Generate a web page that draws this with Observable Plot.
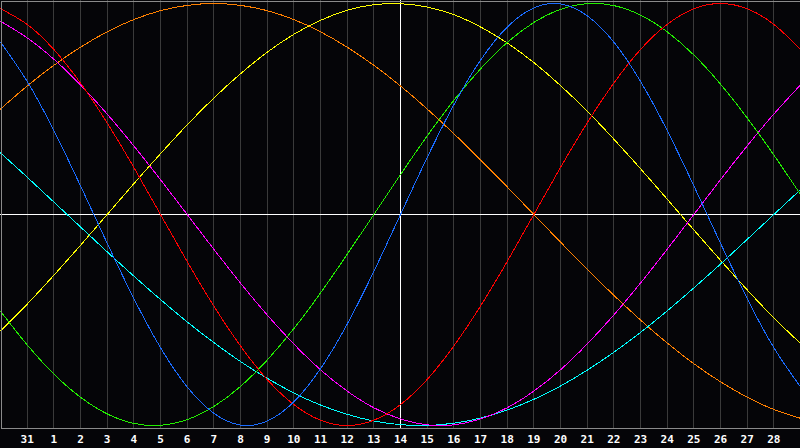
<!DOCTYPE html>
<html>
<head>
<meta charset="utf-8">
<script src="https://cdn.jsdelivr.net/npm/d3@7"></script>
<script src="https://cdn.jsdelivr.net/npm/@observablehq/plot@0.6"></script>
<style>
  html, body { margin: 0; padding: 0; background: #050508; }
  #chart svg { display: block; }
</style>
</head>
<body>
<div id="chart"></div>
<script>
// day positions (index 0 = "31", index 28 = "28"); -1 and 29 are the plot edges
const days = [-1, 0, 1, 2, 3, 4, 5, 6, 7, 8, 9, 10, 11, 12, 13, 14, 15, 16, 17, 18, 19, 20, 21, 22, 23, 24, 25, 26, 27, 28, 29];
const dayLabels = ["31", "1", "2", "3", "4", "5", "6", "7", "8", "9", "10", "11", "12", "13", "14", "15", "16", "17", "18", "19", "20", "21", "22", "23", "24", "25", "26", "27", "28"];
const today = 14;

// values (%) at each day position
const physical     = [81.7, 63.1, 39.8, 13.6, -13.6, -39.8, -63.1, -81.7, -94.2, -99.8, -97.9, -88.8, -73.1, -52.0, -27.0, 0, 27.0, 52.0, 73.1, 88.8, 97.9, 99.8, 94.2, 81.7, 63.1, 39.8, 13.6, -13.6, -39.8, -63.1, -81.7];
const emotional    = [97.5, 90.1, 78.2, 62.3, 43.4, 22.3, 0, -22.3, -43.4, -62.3, -78.2, -90.1, -97.5, -100, -97.5, -90.1, -78.2, -62.3, -43.4, -22.3, 0, 22.3, 43.4, 62.3, 78.2, 90.1, 97.5, 100, 97.5, 90.1, 78.2];
const intellectual = [-45.8, -61.8, -75.6, -86.6, -94.5, -99.0, -99.9, -97.2, -91.0, -81.5, -69.0, -54.1, -37.2, -18.9, 0, 18.9, 37.2, 54.1, 69.0, 81.5, 91.0, 97.2, 99.9, 99.0, 94.5, 86.6, 75.6, 61.8, 45.8, 28.2, 9.5];
const intuitive    = [91.6, 83.7, 73.6, 61.4, 47.6, 32.5, 16.5, 0, -16.5, -32.5, -47.6, -61.4, -73.6, -83.7, -91.6, -96.9, -99.7, -99.7, -96.9, -91.6, -83.7, -73.6, -61.4, -47.6, -32.5, -16.5, 0, 16.5, 32.5, 47.6, 61.4];
const aesthetic    = [-55.2, -42.5, -28.8, -14.6, 0, 14.6, 28.8, 42.5, 55.2, 66.7, 76.9, 85.4, 92.0, 96.8, 99.4, 99.9, 98.3, 94.7, 88.9, 81.3, 72.0, 61.1, 49.0, 35.7, 21.7, 7.3, -7.3, -21.7, -35.7, -49.0, -61.1];
const awareness    = [50.0, 60.9, 70.7, 79.3, 86.6, 92.4, 96.6, 99.1, 100, 99.1, 96.6, 92.4, 86.6, 79.3, 70.7, 60.9, 50.0, 38.3, 25.9, 13.1, 0, -13.1, -25.9, -38.3, -50.0, -60.9, -70.7, -79.3, -86.6, -92.4, -96.6];
const spiritual    = [29.2, 17.7, 5.9, -5.9, -17.7, -29.2, -40.3, -50.9, -60.7, -69.7, -77.6, -84.6, -90.3, -94.7, -97.9, -99.6, -100.0, -98.9, -96.5, -92.7, -87.6, -81.3, -73.8, -65.3, -55.9, -45.7, -34.8, -23.5, -11.8, 0, 11.8];

const seriesList = [
  {values: awareness,    color: "#ff8000"},
  {values: aesthetic,    color: "#ffff00"},
  {values: spiritual,    color: "#00ffff"},
  {values: intuitive,    color: "#ff00ff"},
  {values: intellectual, color: "#22ee00"},
  {values: emotional,    color: "#ff0000"},
  {values: physical,     color: "#1a6cff"}
];

const tickIdx = dayLabels.map((_, i) => i);

const chart = Plot.plot({
  width: 800,
  height: 448,
  marginLeft: 0,
  marginRight: 0,
  marginTop: 0,
  marginBottom: 20,
  style: {background: "#050508", overflow: "visible"},
  x: {domain: [-1, 29], axis: null},
  y: {domain: [-100, 100], range: [425, 3], axis: null},
  marks: [
    Plot.ruleX(tickIdx, {stroke: "#3a3a3a", strokeWidth: 1, shapeRendering: "crispEdges"}),
    Plot.ruleY([0], {stroke: "#ffffff", strokeWidth: 1, shapeRendering: "crispEdges"}),
    Plot.ruleX([today], {stroke: "#ffffff", strokeWidth: 1, shapeRendering: "crispEdges"}),
    ...seriesList.map(s => Plot.line(s.values, {
      x: (d, i) => days[i],
      y: d => d,
      stroke: s.color,
      strokeWidth: 1,
      curve: "natural",
      shapeRendering: "crispEdges"
    })),
    Plot.frame({stroke: "#8a8a8a", inset: 0.5, shapeRendering: "crispEdges"}),
    Plot.axisX({
      ticks: tickIdx,
      tickFormat: i => dayLabels[i],
      tickSize: 0,
      tickPadding: 7,
      fill: "#ffffff",
      fontWeight: "bold",
      fontSize: 11,
      fontFamily: "DejaVu Sans Mono",
      label: null
    })
  ]
});
document.getElementById("chart").appendChild(chart);
</script>
</body>
</html>
